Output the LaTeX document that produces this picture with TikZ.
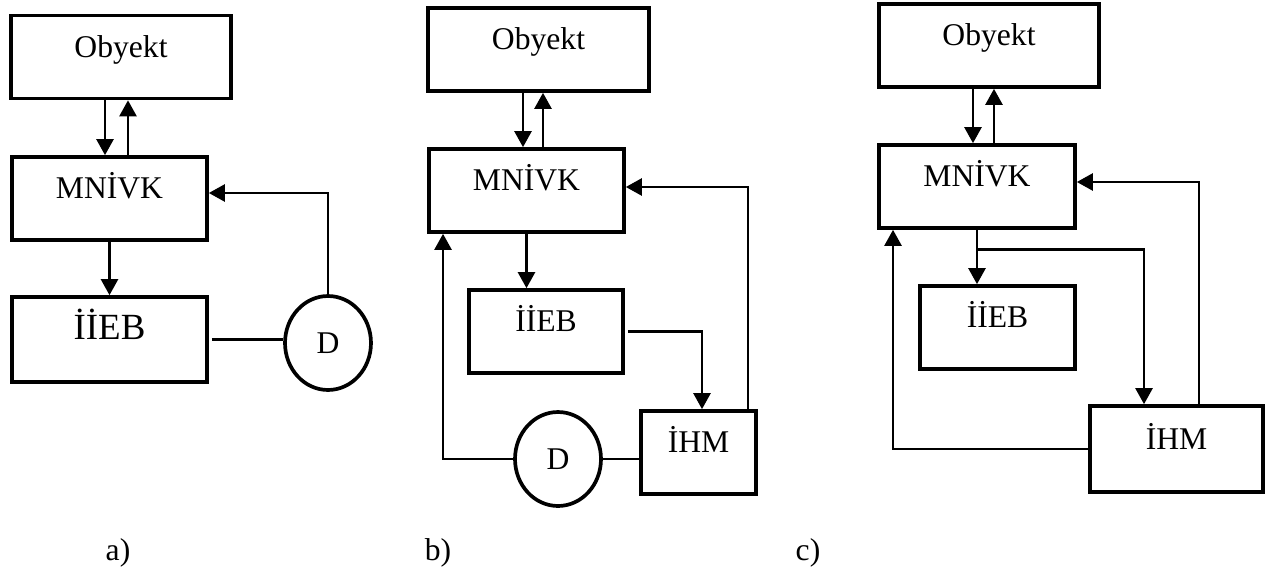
\documentclass[tikz,border=0pt]{standalone}
\usepackage{fontspec}
\setmainfont{Liberation Serif}
\usepackage{tikz}
\usetikzlibrary{arrows.meta,shapes.geometric,calc}

\begin{document}
\begin{tikzpicture}[x=0.02cm, y=-0.02cm,
    blk/.style={draw, line width=2.1pt, inner sep=0pt, text height=0.35cm, text depth=0.35cm,
        minimum height=1.66cm, font=\fontsize{18}{20}\selectfont},
    sens/.style={draw, ellipse, line width=2.1pt, inner sep=0pt, minimum width=1.72cm,
        minimum height=1.88cm, font=\fontsize{18}{20}\selectfont},
    arr/.style={line width=1.4pt, -{Triangle[length=0.32cm, width=0.34cm]}},
    wire/.style={line width=1.2pt},
    sublabel/.style={font=\fontsize{18}{20}\selectfont}]
    \useasboundingbox (0,0) rectangle (1275,572);

    % a)
    \node[blk, minimum width=4.4cm] (obA) at (121,57) {Obyekt};
    \node[blk, minimum width=3.9cm] (mnA) at (109.5,198.5) {MNİVK};
    \node[blk, minimum width=3.9cm, minimum height=1.7cm, font=\fontsize{21}{24}\selectfont] (ieA) at (109.5,339.5) {İİEB};
    \node[sens] (dA) at (328,343) {D};

    \draw[arr] ([xshift=-0.09cm]mnA.north |- obA.south) -- ([xshift=-0.09cm]mnA.north);
    \draw[arr] ([xshift=0.37cm]mnA.north) -- ([xshift=0.37cm]mnA.north |- obA.south);
    \draw[arr] (mnA) -- (ieA);
    \draw[wire] ([xshift=0.06cm]ieA.east) -- (ieA.east -| dA.west);
    \draw[arr] (dA.north) |- ([yshift=0.11cm]mnA.east);

    % b)
    \node[blk, minimum width=4.42cm] (obB) at (538.5,49.5) {Obyekt};
    \node[blk, minimum width=3.9cm] (mnB) at (526.5,190.5) {MNİVK};
    \node[blk, minimum width=3.08cm] (ieB) at (546,331.5) {İİEB};
    \node[blk, minimum width=2.3cm] (ihB) at (698.5,452.5) {İHM};
    \node[sens] (dB) at (558,459) {D};

    \draw[arr] ([xshift=-0.07cm]mnB.north |- obB.south) -- ([xshift=-0.07cm]mnB.north);
    \draw[arr] ([xshift=0.33cm]mnB.north) -- ([xshift=0.33cm]mnB.north |- obB.south);
    \draw[arr] (mnB.south) -- (mnB.south |- ieB.north);
    \draw[arr] ([xshift=0.06cm]ieB.east) -| ([xshift=0.07cm]ihB.north);
    \draw[arr] ([xshift=0.99cm]ihB.north) |- ([yshift=0.07cm]mnB.east);
    \draw[wire] (ihB.west |- dB.east) -- (dB.east);
    \draw[arr] (dB.west) -| ([xshift=-1.67cm]mnB.south);

    % c)
    \node[blk, minimum width=4.4cm] (obC) at (989,45.5) {Obyekt};
    \node[blk, minimum width=3.92cm] (mnC) at (977,186.5) {MNİVK};
    \node[blk, minimum width=3.1cm] (ieC) at (997.5,327.5) {İİEB};
    \node[blk, minimum width=3.46cm, minimum height=1.72cm] (ihC) at (1176.5,449) {İHM};
    \coordinate (brC) at ([yshift=-0.39cm]mnC.south);

    \draw[arr] ([xshift=-0.08cm]mnC.north |- obC.south) -- ([xshift=-0.08cm]mnC.north);
    \draw[arr] ([xshift=0.34cm]mnC.north) -- ([xshift=0.34cm]mnC.north |- obC.south);
    \draw[arr] (mnC.south) -- (mnC.south |- ieC.north);
    \draw[arr] (brC) -| ([xshift=-0.65cm]ihC.north);
    \draw[arr] ([xshift=0.45cm]ihC.north) |- ([yshift=0.09cm]mnC.east);
    \draw[arr] (ihC.west) -| ([xshift=-1.68cm]mnC.south);

    % captions
    \node[sublabel] (labA) at (118,553) {a)};
    \node[sublabel] (labB) at (438,553) {b)};
    \node[sublabel] (labC) at (808,553) {c)};
\end{tikzpicture}
\end{document}
